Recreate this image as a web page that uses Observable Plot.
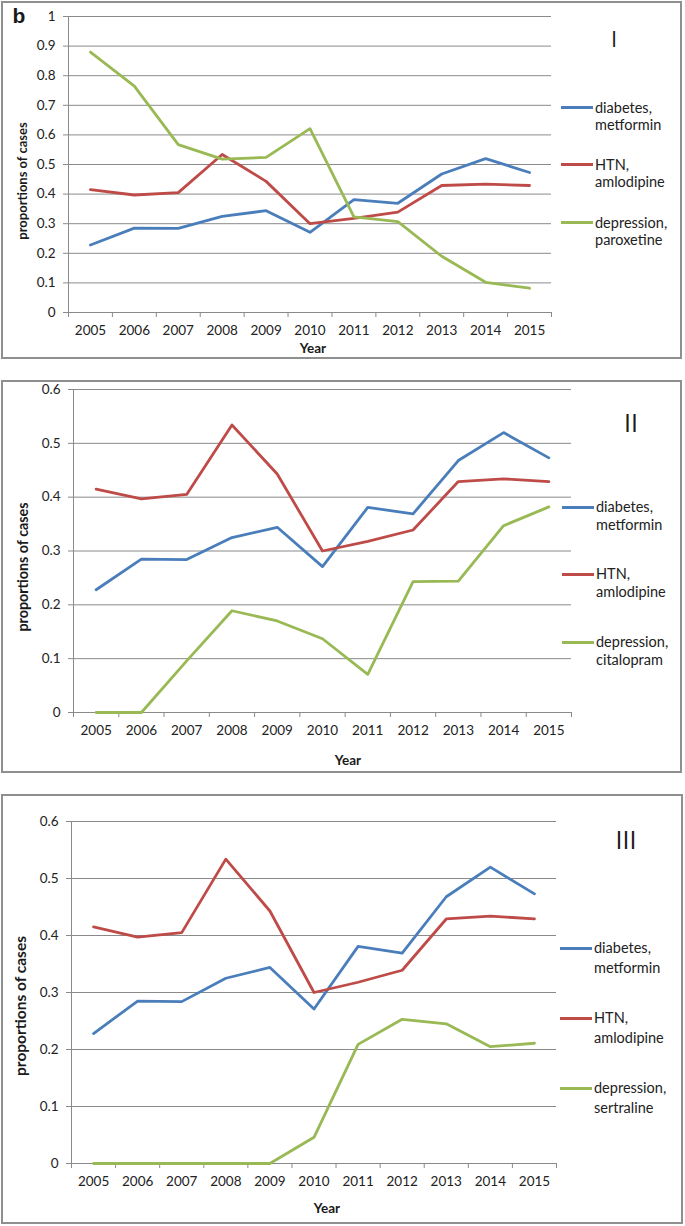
<!DOCTYPE html>
<html>
<head>
<meta charset="utf-8">
<script src="https://cdn.jsdelivr.net/npm/d3@7"></script>
<script src="https://cdn.jsdelivr.net/npm/@observablehq/plot@0.6"></script>
<style>
  html, body { margin: 0; padding: 0; background: #fff; }
  #root { position: relative; width: 685px; height: 1226px; overflow: hidden; font-family: Lato, "Open Sans", sans-serif; color: #1a1a1a; }
  .abs { position: absolute; white-space: nowrap; }
  .box { position: absolute; box-sizing: border-box; border: 2px solid #8f8f8f; }
  svg { position: absolute; left: 0; }
</style>
</head>
<body>
<div id="root"></div>
<script>
// ---- data ----
const years = [2005, 2006, 2007, 2008, 2009, 2010, 2011, 2012, 2013, 2014, 2015];
const diabetesMetformin = [0.228, 0.285, 0.284, 0.325, 0.344, 0.271, 0.381, 0.369, 0.468, 0.520, 0.473];
const htnAmlodipine = [0.415, 0.397, 0.405, 0.534, 0.443, 0.300, 0.318, 0.339, 0.429, 0.434, 0.429];
const depressionParoxetine = [0.880, 0.765, 0.567, 0.518, 0.524, 0.621, 0.323, 0.307, 0.190, 0.102, 0.082];
const depressionCitalopram = [0, 0, 0.096, 0.189, 0.170, 0.137, 0.071, 0.243, 0.244, 0.347, 0.382];
const depressionSertraline = [0, 0, 0, 0, 0, 0.046, 0.209, 0.253, 0.245, 0.205, 0.211];
const seriesNames = ["diabetes, metformin", "HTN, amlodipine"];
const yTicksI = [0, 0.1, 0.2, 0.3, 0.4, 0.5, 0.6, 0.7, 0.8, 0.9, 1];
const yTicksII = [0, 0.1, 0.2, 0.3, 0.4, 0.5, 0.6];
const panelNames = ["I", "II", "III"];
const thirdSeries = ["depression, paroxetine", "depression, citalopram", "depression, sertraline"];
const yAxisTitle = "proportions of cases";
const xAxisTitle = "Year";

const colors = ["#4A7EBB", "#BE4B48", "#98B954"];
const gray = "#8a8a8a";

const root = document.getElementById("root");

function addText(text, x, y, css, rotate) {
  const d = document.createElement("div");
  d.className = "abs";
  d.textContent = text;
  d.style.left = x + "px";
  d.style.top = y + "px";
  d.style.transform = "translate(-50%,-50%)" + (rotate ? " rotate(-90deg)" : "");
  Object.assign(d.style, css || {});
  root.appendChild(d);
  return d;
}

function makePanel(cfg) {
  const box = document.createElement("div");
  box.className = "box";
  Object.assign(box.style, {left: cfg.box[0] + "px", top: cfg.box[1] + "px", width: (cfg.box[2] - cfg.box[0]) + "px", height: (cfg.box[3] - cfg.box[1]) + "px"});
  root.appendChild(box);

  const rows = [];
  const lists = [diabetesMetformin, htnAmlodipine, cfg.third];
  const names = [seriesNames[0], seriesNames[1], cfg.thirdName];
  lists.forEach((vals, i) => years.forEach((yr, j) => rows.push({series: names[i], year: yr, value: vals[j]})));

  const boundaries = years.map(y => y - 0.5).concat([years[years.length - 1] + 0.5]);
  const yTicks = cfg.yTicks;

  const svg = Plot.plot({
    width: 685,
    height: cfg.svgH,
    marginLeft: cfg.m[0], marginRight: cfg.m[1], marginTop: cfg.m[2], marginBottom: cfg.m[3],
    style: {fontFamily: "Lato, 'Open Sans', sans-serif", fontSize: "13.5px", background: "transparent", overflow: "visible"},
    x: {type: "linear", domain: [boundaries[0], boundaries[boundaries.length - 1]]},
    y: {domain: [0, yTicks[yTicks.length - 1]]},
    color: {domain: names, range: colors},
    marks: [
      Plot.gridY(yTicks, {stroke: gray, strokeOpacity: 1, strokeWidth: 1}),
      Plot.ruleY([0], {stroke: gray, strokeWidth: 1}),
      Plot.ruleX([boundaries[0]], {stroke: gray, strokeWidth: 1}),
      Plot.axisX(boundaries, {tickSize: 5, tickFormat: () => "", stroke: gray, label: null}),
      Plot.axisX(years, {tickSize: 0, tickPadding: 13, tickFormat: d => String(d), fill: "#222", label: null}),
      Plot.axisY(yTicks, {tickSize: 5, tickPadding: 8, tickFormat: d => String(+d.toFixed(1)), stroke: gray, fill: "#222", label: null}),
      Plot.line(rows, {x: "year", y: "value", z: "series", stroke: "series", strokeWidth: 2.8, strokeLinejoin: "round"})
    ]
  });
  svg.style.top = cfg.svgTop + "px";
  root.appendChild(svg);

  addText(yAxisTitle, cfg.yLabel[0], cfg.yLabel[1], {fontWeight: "bold", fontSize: cfg.yLabel[2] + "px"}, true);
  addText(xAxisTitle, cfg.xLabel[0], cfg.xLabel[1], {fontWeight: "bold", fontSize: "13.5px"});
  addText(cfg.roman, cfg.romanPos[0], cfg.romanPos[1], {fontSize: cfg.romanPos[2] + "px", fontFamily: "'Open Sans', Lato, sans-serif"});

  cfg.legend.forEach((ly, i) => {
    const sw = document.createElement("div");
    sw.className = "abs";
    Object.assign(sw.style, {left: cfg.legendX + "px", top: (ly - 1.5) + "px", width: "32px", height: "3px", background: colors[i]});
    root.appendChild(sw);
    const parts = names[i].split(" ");
    const t = document.createElement("div");
    t.className = "abs";
    t.innerHTML = parts[0] + "<br>" + parts[1];
    Object.assign(t.style, {left: (cfg.legendX + 34) + "px", top: (ly - cfg.lh / 2) + "px", fontSize: "14.5px", lineHeight: cfg.lh + "px", color: "#222"});
    root.appendChild(t);
  });
}

makePanel({
  box: [1, 1, 682, 359], svgTop: 0, svgH: 370, m: [68, 134, 16, 58],
  yTicks: yTicksI, third: depressionParoxetine, thirdName: thirdSeries[0],
  yLabel: [22, 181, 13], xLabel: [313, 348], roman: panelNames[0], romanPos: [614, 38, 22],
  legendX: 561, legend: [107, 164, 222], lh: 17
});
makePanel({
  box: [1, 380, 682, 773], svgTop: 370, svgH: 410, m: [73, 114, 19, 68],
  yTicks: yTicksII, third: depressionCitalopram, thirdName: thirdSeries[1],
  yLabel: [22, 567, 14.3], xLabel: [348, 760], roman: panelNames[1], romanPos: [631, 422, 25],
  legendX: 562, legend: [507, 574, 642], lh: 18
});
makePanel({
  box: [1, 794, 683, 1224], svgTop: 780, svgH: 446, m: [71, 129, 41, 63],
  yTicks: yTicksII, third: depressionSertraline, thirdName: thirdSeries[2],
  yLabel: [20, 1006, 15.5], xLabel: [327, 1208], roman: panelNames[2], romanPos: [626, 839, 25],
  legendX: 560, legend: [948, 1018, 1088], lh: 20
});

addText("b", 19, 16, {fontWeight: "bold", fontSize: "21px", fontFamily: "'Liberation Sans', Arial, sans-serif"});
</script>
</body>
</html>
